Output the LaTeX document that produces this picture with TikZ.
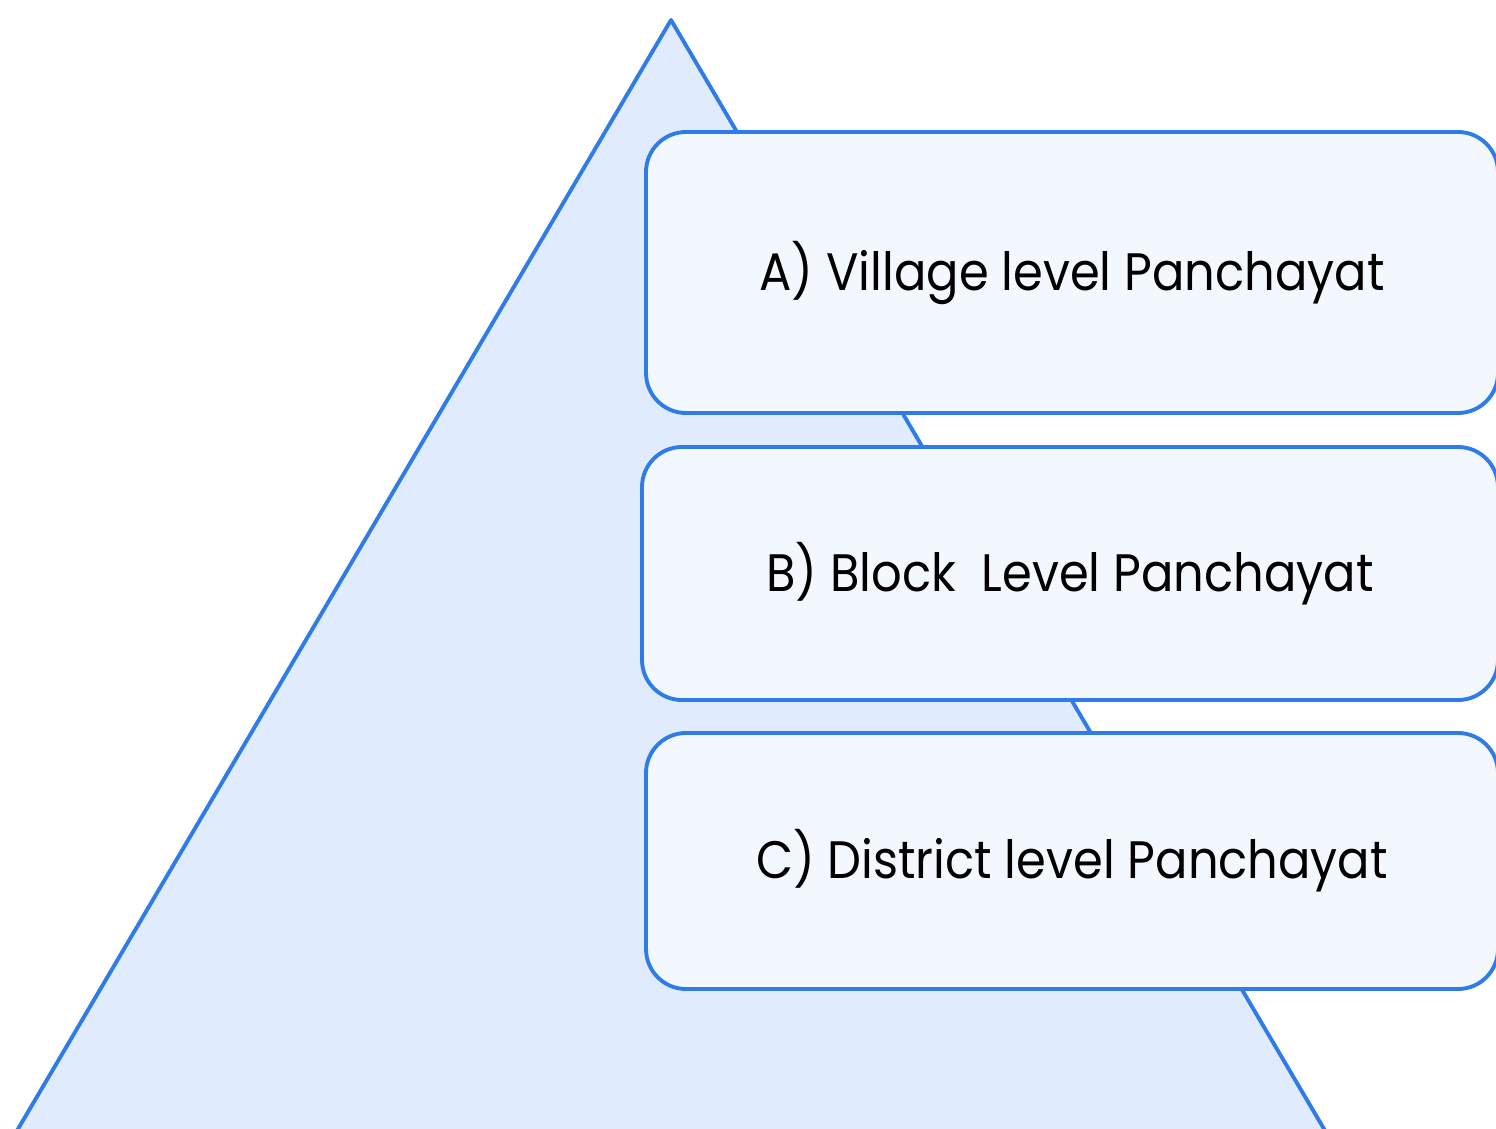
\documentclass[tikz,border=0pt]{standalone}
\usepackage{fontspec}
\setmainfont{Poppins}[FakeStretch=0.91]
\usepackage{tikz}
\definecolor{lineblue}{HTML}{2F7BE8}
\definecolor{pyrfill}{HTML}{E0EBFD}
\definecolor{boxfill}{HTML}{F3F8FE}
\tikzstyle{level}=[draw=lineblue, fill=boxfill, line width=1.1pt, rounded corners=0.4cm, inner sep=0pt, minimum width=8.52cm, font=\fontsize{15}{18}\selectfont, text=black]

\begin{document}
\begin{tikzpicture}
        \useasboundingbox (0, 0) rectangle (14.96, 11.28);
        \clip (0, 0) rectangle (14.96, 11.28);
        \coordinate (top) at (6.71, 11.08) {};
        \coordinate (left) at (-0.05, -0.4) {};
        \coordinate (right) at (13.47, -0.4) {};
        \draw[lineblue, fill=pyrfill, line width=1.1pt, line join=round] (top) -- (left) -- (right) -- cycle;
        \node[level, minimum height=2.81cm] (A) at (10.72, 8.555) {A) Village level Panchayat};
        \node[level, minimum height=2.53cm, minimum width=8.56cm] (B) at (10.70, 5.545) {B) Block~~Level Panchayat};
        \node[level, minimum height=2.56cm] (C) at (10.72, 2.67) {C) District level Panchayat};
    \end{tikzpicture}
\end{document}
